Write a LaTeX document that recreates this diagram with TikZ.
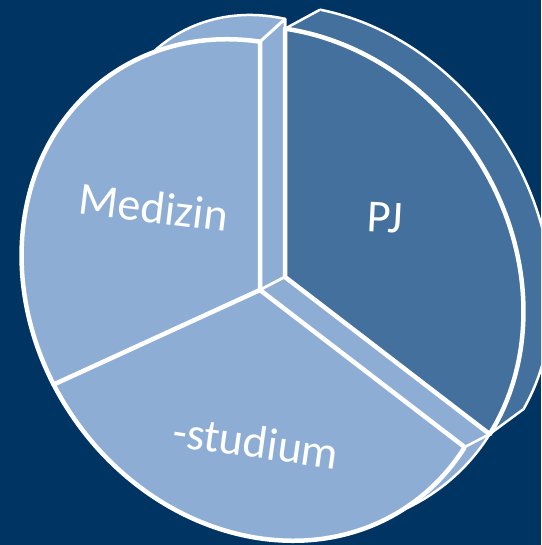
\documentclass[tikz,border=0pt]{standalone}
\usepackage{fontspec}
\setmainfont{Carlito}
\usepackage{xcolor}
\usetikzlibrary{calc}

\definecolor{navybg}{HTML}{003462}
\definecolor{slicelight}{HTML}{8DADD5}
\definecolor{slicedark}{HTML}{43709C}

\begin{document}
\begin{tikzpicture}[x=1pt, y=-1pt, line join=round,
    lightface/.style={fill=slicelight, draw=white, line width=4.5pt},
    darkface/.style={fill=slicedark, draw=white, line width=4.5pt},
    thinrim/.style={line width=2.5pt},
    whiteedge/.style={draw=white, line width=4.5pt, line cap=round},
    slicetext/.style={text=white, font=\fontsize{46}{54}\selectfont}]
      % background
      \useasboundingbox (0,0) rectangle (541,545);
      \fill[navybg] (0,0) rectangle (541,545);
      \clip (0,0) rectangle (541,545);

      % corners
      \coordinate (center) at (260,290);
      \coordinate (cback) at (285,277);
      \coordinate (mtop) at (260,41.7);
      \coordinate (mback) at (285,19);
      \coordinate (mleft) at (53.7,384.5);
      \coordinate (sfront) at (464.6,447.1);
      \coordinate (sback) at (489.6,434.1);
      \coordinate (ptop) at (285,28.7);
      \coordinate (pjback) at (320,253);
      \coordinate (pbtop) at (320,9.7);
      \coordinate (pbbot) at (523.4,409.2);

      % back face: Medizin
      \begin{scope}
        \clip (285,277) -- (285,-500) -- (-500,-500) -- (-374,579) -- cycle;
        \path[lightface, thinrim, shift={(273,190.5)}, rotate=-55]
          (0,0) ellipse [x radius=183.4pt, y radius=158.2pt];
      \end{scope}
      % back face: studium
      \begin{scope}
        \clip (285,277) -- (-374,579) -- (-500,1200) -- (1200,1200) -- (1078,886) -- cycle;
        \path[lightface, thinrim, shift={(cback)}, rotate=-55]
          (0,0) ellipse [x radius=262pt, y radius=226pt];
      \end{scope}

      % cut faces
      \path[lightface, line width=3pt] (center) -- (mtop) -- (mback) -- (cback) -- cycle;
      \path[lightface, line width=2.5pt] (center) -- (cback) -- (sback) -- (sfront) -- cycle;

      % front face: Medizin
      \begin{scope}
        \clip (260,290) -- (260,-500) -- (-500,-500) -- (-399,592) -- cycle;
        \path[lightface, shift={(center)}, rotate=-55]
          (0,0) ellipse [x radius=262pt, y radius=226pt];
      \end{scope}
      % front face: studium
      \begin{scope}
        \clip (260,290) -- (-399,592) -- (-500,1200) -- (1200,1200) -- (1053,899) -- cycle;
        \path[lightface, shift={(center)}, rotate=-55]
          (0,0) ellipse [x radius=262pt, y radius=226pt];
      \end{scope}
      \draw[whiteedge] (mtop) -- (center) -- (mleft);
      \draw[whiteedge] (center) -- (sfront);

      % PJ: side rim
      \begin{scope}
        \clip (320,253) -- (320,-500) -- (1200,-500) -- (1113,862) -- cycle;
        \path[darkface, thinrim, shift={(pjback)}, rotate=-55]
          (0,0) ellipse [x radius=262pt, y radius=215pt];
      \end{scope}
      \fill[slicedark] (ptop) -- (pbtop) -- (pbbot) -- (sback) -- (cback) -- cycle;
      \draw[white, thinrim] (ptop) -- (pbtop) (sback) -- (pbbot);

      % PJ: front
      \begin{scope}
        \clip (285,277) -- (285,-500) -- (1200,-500) -- (1078,886) -- cycle;
        \path[darkface, shift={(cback)}, rotate=-55]
          (0,0) ellipse [x radius=262pt, y radius=226pt];
      \end{scope}
      \draw[whiteedge] (ptop) -- (cback) -- (sback);

      % labels
      \node[slicetext, rotate=-7] (medizin) at (154,207) {Medizin};
      \node[slicetext, rotate=-8] (studium) at (256,442) {-studium};
      \node[slicetext, rotate=-3] (pj) at (385,218) {PJ};
\end{tikzpicture}
\end{document}
